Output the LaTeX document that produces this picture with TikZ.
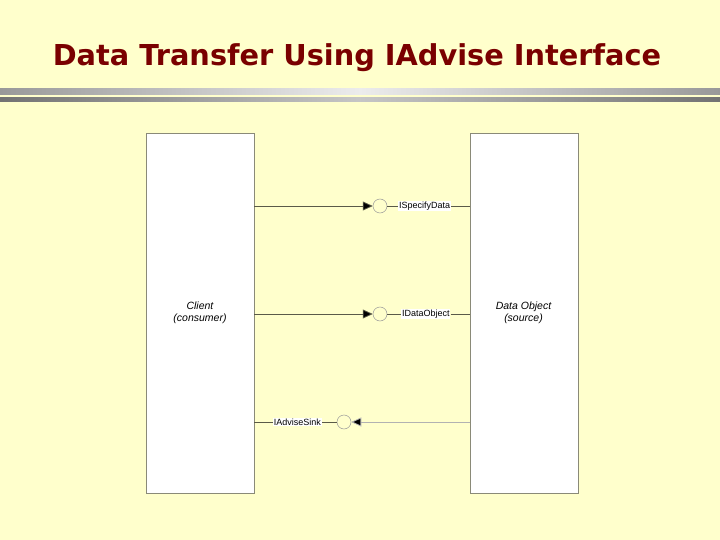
\documentclass[tikz,border=0pt]{standalone}
\usepackage{fontspec}
\setmainfont{Liberation Sans}
\newfontfamily\titlefont{DejaVu Sans}
\usetikzlibrary{arrows.meta,shadings}
\definecolor{bgyellow}{HTML}{FFFFCC}
\definecolor{titlered}{HTML}{7A0000}
\definecolor{linegray}{HTML}{5A5A48}
\definecolor{boxedge}{HTML}{8A8A78}
\tikzset{
  objbox/.style={draw=boxedge, line width=0.8pt, fill=white, minimum width=108pt, minimum height=360pt, inner sep=0pt, anchor=north west},
  objtext/.style={font=\itshape\fontsize{10.5}{12}\selectfont, align=center},
  lollipop/.style={circle, draw=gray!80, line width=0.5pt, minimum size=14pt, inner sep=0pt, fill=bgyellow},
  iflabel/.style={font=\fontsize{9}{10}\selectfont, fill=white, inner sep=0.8pt},
  wire/.style={draw=linegray, line width=0.8pt},
  callarrow/.style={wire, -{Triangle[length=10pt,width=9pt,fill=black]}}
}
\begin{document}
\begin{tikzpicture}[x=1pt,y=-1pt]
\fill[bgyellow] (0,0) rectangle (720,540);
\useasboundingbox (0,0) rectangle (720,540);
% title
\node[font=\titlefont\bfseries\fontsize{28.8}{32}\selectfont, text=titlered] (title) at (357,58) {Data Transfer Using IAdvise Interface};
% separator bars
\shade[left color=gray!80, right color=gray!80, middle color=gray!15] (0,89) rectangle (720,95);
\shade[left color=gray!90!black, right color=gray!90!black, middle color=gray!45] (0,98) rectangle (720,102);
% boxes
\node[objbox] (client) at (145.5,133) {};
\node[objbox] (source) at (469.5,133) {};
\node[objtext] (clienttxt) at (200,313) {Client\\(consumer)};
\node[objtext] (sourcetxt) at (523.5,313) {Data Object\\(source)};
% interface 1
\node[lollipop] (c1) at (380,206) {};
\node[iflabel, anchor=west] (l1) at (398,206) {ISpecifyData};
\coordinate (a1) at (254,206);
\coordinate (b1) at (469.5,206);
\draw[callarrow] (a1) -- (c1.west);
\draw[wire] (c1.east) -- (l1.west);
\draw[wire] (l1.east) -- (b1);
% interface 2
\node[lollipop] (c2) at (380,314) {};
\node[iflabel, anchor=west] (l2) at (401,314) {IDataObject};
\coordinate (a2) at (254,314);
\coordinate (b2) at (469.5,314);
\draw[callarrow] (a2) -- (c2.west);
\draw[wire] (c2.east) -- (l2.west);
\draw[wire] (l2.east) -- (b2);
% interface 3
\node[lollipop] (c3) at (344,422) {};
\node[iflabel, anchor=east] (l3) at (322,422) {IAdviseSink};
\coordinate (a3) at (254,422);
\coordinate (b3) at (469.5,422);
\draw[callarrow, draw=gray!60] (b3) -- (c3.east);
\draw[wire] (c3.west) -- (l3.east);
\draw[wire] (l3.west) -- (a3);
\end{tikzpicture}
\end{document}
